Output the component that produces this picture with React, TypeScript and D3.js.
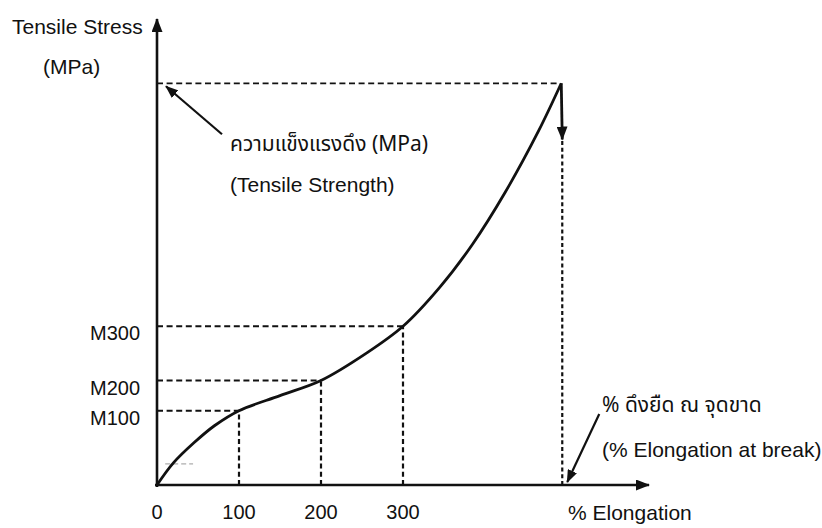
import * as d3 from "d3";

const elongation = [0, 20, 45, 70, 100, 150, 200, 255, 300, 345, 385, 425, 465, 493];
const stress = [0, 1.1, 2.1, 2.95, 3.7, 4.45, 5.2, 6.55, 7.9, 9.85, 12.0, 14.6, 17.6, 20];

const modulusAt = [100, 200, 300];
const modulusValues = [3.7, 5.2, 7.9];
const modulusLabels = ["M100", "M200", "M300"];

const xTickValues = [0, 100, 200, 300];
const tensileStrength = 20;
const breakElongation = 493;

const W = 822;
const H = 528;
const FONT = "'Liberation Sans', Arial, Helvetica, sans-serif";
const THAI = "'Noto Sans Thai', 'Noto Sans Thai UI', Loma, Garuda, 'Tlwg Typo', 'Liberation Sans', sans-serif";
const INK = "#111";

export default function App() {
  const x = d3.scaleLinear().domain([0, 600]).range([157, 649]);
  const y = d3.scaleLinear().domain([0, 23.2]).range([485, 19]);

  const pts = elongation.map((e, i) => ({ e, s: stress[i] }));
  const curve = d3
    .line<{ e: number; s: number }>()
    .x((d) => x(d.e))
    .y((d) => y(d.s))
    .curve(d3.curveCatmullRom.alpha(0.5))(pts) as string;

  const x0 = x(0);
  const y0 = y(0);
  const xb = x(breakElongation);
  const yts = y(tensileStrength);

  // annotation arrows, placed relative to the marks they point at
  const tsTip = [x0 + 9, yts + 3];
  const tsTail = [tsTip[0] + 56, tsTip[1] + 48];
  const ebTip = [xb + 6, y0 - 3];
  const ebTail = [ebTip[0] + 32, ebTip[1] - 68];

  return (
    <svg
      width={W}
      height={H}
      style={{ position: "absolute", left: 0, top: 0, background: "#fff" }}
      fontFamily={FONT}
    >
      <defs>
        <marker id="axisHead" viewBox="0 0 14 11" refX="13" refY="5.5" markerWidth="14" markerHeight="11" orient="auto" markerUnits="userSpaceOnUse">
          <path d="M0,0 L14,5.5 L0,11 Z" fill={INK} />
        </marker>
        <marker id="noteHead" viewBox="0 0 13 10" refX="12" refY="5" markerWidth="13" markerHeight="10" orient="auto" markerUnits="userSpaceOnUse">
          <path d="M0,0 L13,5 L0,10 Z" fill={INK} />
        </marker>
      </defs>

      {/* faint stray dash near origin */}
      <line x1={x(10)} x2={x(44)} y1={y(1.05)} y2={y(1.05)} stroke="#999" strokeWidth={1} strokeDasharray="5,3" />

      {/* guide lines */}
      {modulusAt.map((m, i) => (
        <g key={m}>
          <line x1={x0} x2={x(m)} y1={y(modulusValues[i])} y2={y(modulusValues[i])} stroke={INK} strokeWidth={2} strokeDasharray="6,3.6" />
          <line x1={x(m)} x2={x(m)} y1={y0} y2={y(modulusValues[i])} stroke={INK} strokeWidth={2.2} strokeDasharray="5,3.2" />
        </g>
      ))}
      <line x1={x0} x2={xb - 2} y1={yts} y2={yts} stroke={INK} strokeWidth={1.8} strokeDasharray="6,3.6" />
      <line x1={xb + 1} x2={xb + 1} y1={y0} y2={y(17.2)} stroke={INK} strokeWidth={2.2} strokeDasharray="4,2.8" />
      <line x1={xb} x2={xb + 1} y1={yts} y2={y(17.2)} stroke={INK} strokeWidth={2.8} markerEnd="url(#axisHead)" />

      {/* stress-strain curve */}
      <path d={curve} fill="none" stroke={INK} strokeWidth={2.8} strokeLinejoin="round" />

      {/* axes */}
      <line x1={x0} x2={x0} y1={y0 + 2} y2={y(23.2)} stroke={INK} strokeWidth={2.6} markerEnd="url(#axisHead)" />
      <line x1={x0 - 2} x2={x(600)} y1={y0} y2={y0} stroke={INK} strokeWidth={2.6} markerEnd="url(#axisHead)" />

      {/* x tick labels */}
      {xTickValues.map((t) => (
        <text key={t} x={x(t)} y={y0 + 34} textAnchor="middle" fontSize={20} fill={INK}>
          {t}
        </text>
      ))}

      {/* modulus labels */}
      {modulusAt.map((m, i) => (
        <text key={m} x={x0 - 17} y={y(modulusValues[i]) + 14} textAnchor="end" fontSize={20} fill={INK}>
          {modulusLabels[i]}
        </text>
      ))}

      {/* axis titles */}
      <text x={12} y={34} fontSize={21} fill={INK}>Tensile Stress</text>
      <text x={43} y={74} fontSize={21} fill={INK}>(MPa)</text>
      <text x={568} y={520} fontSize={21} fill={INK}>% Elongation</text>

      {/* tensile strength note */}
      <line x1={tsTail[0]} y1={tsTail[1]} x2={tsTip[0]} y2={tsTip[1]} stroke={INK} strokeWidth={2.2} markerEnd="url(#noteHead)" />
      <text x={230} y={151} fontSize={21} fill={INK} fontFamily={THAI}>ความแข็งแรงดึง (MPa)</text>
      <text x={230} y={192} fontSize={21} fill={INK}>(Tensile Strength)</text>

      {/* elongation at break note */}
      <line x1={ebTail[0]} y1={ebTail[1]} x2={ebTip[0]} y2={ebTip[1]} stroke={INK} strokeWidth={2.2} markerEnd="url(#noteHead)" />
      <text x={602} y={412} fontSize={21} fill={INK} fontFamily={THAI}>% ดึงยืด ณ จุดขาด</text>
      <text x={602} y={457} fontSize={21} fill={INK}>(% Elongation at break)</text>
    </svg>
  );
}
